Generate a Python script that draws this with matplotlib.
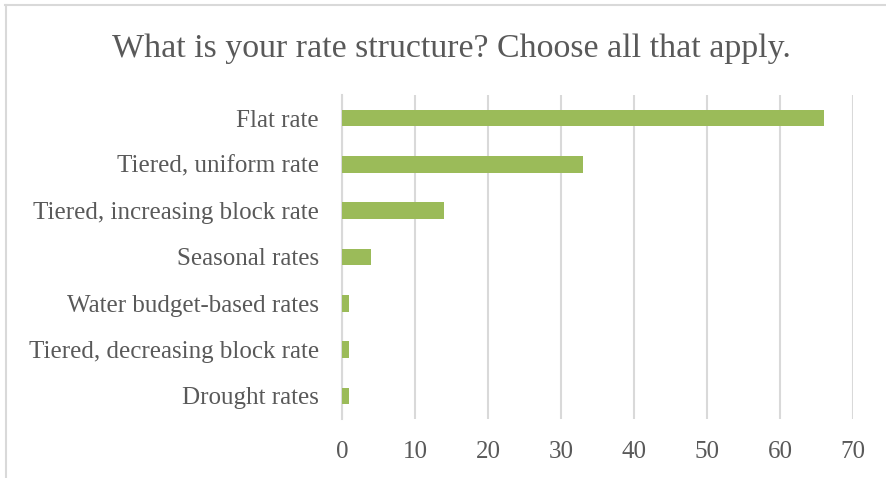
import matplotlib
matplotlib.use("Agg")
import matplotlib.pyplot as plt

categories = [
    "Flat rate",
    "Tiered, uniform rate",
    "Tiered, increasing block rate",
    "Seasonal rates",
    "Water budget-based rates",
    "Tiered, decreasing block rate",
    "Drought rates",
]
counts = [66, 33, 14, 4, 1, 1, 1]
x_ticks = [0, 10, 20, 30, 40, 50, 60, 70]
title = "What is your rate structure? Choose all that apply."

text_color = "#595959"
bar_color = "#9BBB59"
grid_color = "#D9D9D9"
font = "Liberation Serif"

fig = plt.figure(figsize=(8.86, 4.78), dpi=100)
ax = fig.add_axes([0.386, 0.1234, 0.5767, 0.6779])

positions = list(range(len(categories)))
ax.barh(positions, counts, height=0.36, color=bar_color, zorder=3)

ax.set_ylim(len(categories) - 0.5, -0.5)
ax.set_xlim(x_ticks[0], x_ticks[-1])
ax.set_xticks(x_ticks)
ax.set_xticklabels([str(t) for t in x_ticks], fontfamily=font, fontsize=18, color=text_color)
ax.set_yticks(positions)
ax.set_yticklabels(categories, fontfamily=font, fontsize=18, color=text_color)
ax.tick_params(axis="both", length=0)
ax.tick_params(axis="y", pad=16.5)
ax.tick_params(axis="x", pad=16)

ax.grid(axis="x", color=grid_color, linewidth=1.5, zorder=0)
for side in ("top", "right", "bottom"):
    ax.spines[side].set_visible(False)
ax.spines["left"].set_color(grid_color)
ax.spines["left"].set_linewidth(1.5)

fig.text(0.509, 0.897, title, ha="center", va="center",
         fontfamily=font, fontsize=24.4, color=text_color)

# chart frame (top and left edges)
fig.add_artist(plt.Line2D([5 / 886, 1.0], [1 - 4.5 / 478, 1 - 4.5 / 478],
                          transform=fig.transFigure, color=grid_color, linewidth=1.5))
fig.add_artist(plt.Line2D([5.5 / 886, 5.5 / 886], [0.0, 1 - 4.5 / 478],
                          transform=fig.transFigure, color=grid_color, linewidth=1.5))

fig.savefig("out.png", dpi=100, facecolor="white")
